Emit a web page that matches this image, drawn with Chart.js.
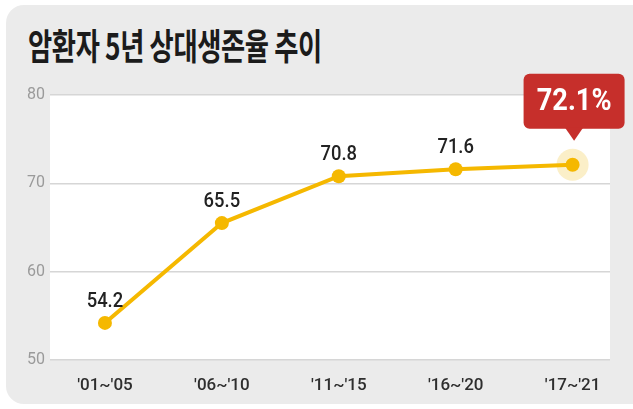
<!DOCTYPE html>
<html>
<head>
<meta charset="utf-8">
<script src="https://cdn.jsdelivr.net/npm/chart.js@4"></script>
<style>
  html, body { margin: 0; padding: 0; background: #fff; overflow: hidden; }
  #card { position: absolute; left: 6px; top: 5px; width: 660px; height: 399px; background: #ebebeb; border-radius: 18px; }
  #title { position: absolute; left: 28px; top: 18px; font-family: "Noto Sans CJK KR"; font-weight: 700; font-size: 36px; color: #1b1b1b; transform: scaleX(0.73); transform-origin: left top; white-space: nowrap; letter-spacing: -0.5px; }
  #wrap { position: absolute; left: 0; top: 0; width: 633px; height: 409px; }
</style>
</head>
<body>
<div id="card"></div>
<div id="title">암환자 5년 상대생존율 추이</div>
<div id="wrap"><canvas id="myChart" width="633" height="409"></canvas></div>
<script>
const ctx = document.getElementById('myChart').getContext('2d');

// 기간, 생존율
const periods = ["'01~'05", "'06~'10", "'11~'15", "'16~'20", "'17~'21"];
const rates = [54.2, 65.5, 70.8, 71.6, 72.1];
const yTicks = [50, 60, 70, 80];

const lineColor = '#f5b800';

// 흰 배경, 라벨, 말풍선
const decorPlugin = {
    id: 'decor',
    beforeDraw(chart) {
        const a = chart.chartArea;
        const c = chart.ctx;
        c.save();
        c.fillStyle = '#ffffff';
        c.fillRect(a.left, a.top, a.right - a.left, a.bottom - a.top);
        c.restore();
    },
    beforeDatasetsDraw(chart) {
        const c = chart.ctx;
        const pts = chart.getDatasetMeta(0).data;
        const p = pts[pts.length - 1];
        c.save();
        c.fillStyle = '#fbefc8';
        c.beginPath();
        c.arc(p.x, p.y, 16, 0, Math.PI * 2);
        c.fill();
        c.restore();
    },
    afterDatasetsDraw(chart) {
        const c = chart.ctx;
        const pts = chart.getDatasetMeta(0).data;
        c.save();
        c.fillStyle = '#222';
        c.font = '500 20px Roboto';
        c.textAlign = 'center';
        c.textBaseline = 'middle';
        for (let i = 0; i < pts.length - 1; i++) {
            c.save();
            c.translate(pts[i].x, pts[i].y - 21);
            c.scale(0.92, 1);
            c.fillText(rates[i].toFixed(1), 0, 0);
            c.restore();
        }
        // 마지막 값 말풍선
        const p = pts[pts.length - 1];
        const cx = p.x + 1.5, bottom = p.y - 36, w = 101, h = 55, r = 6;
        const left = cx - w / 2, top = bottom - h;
        c.fillStyle = '#c62f2b';
        c.beginPath();
        c.roundRect(left, top, w, h, r);
        c.fill();
        c.beginPath();
        c.moveTo(cx - 9, bottom - 1);
        c.lineTo(cx + 9, bottom - 1);
        c.lineTo(cx, p.y - 24);
        c.closePath();
        c.fill();
        c.fillStyle = '#fff';
        c.font = 'bold 32px Roboto';
        c.translate(cx, top + h / 2 + 1);
        c.scale(0.85, 1);
        c.fillText(rates[rates.length - 1].toFixed(1) + '%', 0, 0);
        c.restore();
    }
};

const myChart = new Chart(ctx, {
    type: 'line',
    data: {
        datasets: [{
            data: rates.map((v, i) => ({ x: i, y: v })),
            borderColor: lineColor,
            backgroundColor: lineColor,
            borderWidth: 4,
            pointRadius: 7,
            pointBackgroundColor: lineColor,
            pointBorderWidth: 0,
            tension: 0
        }]
    },
    options: {
        responsive: false,
        animation: false,
        events: [],
        layout: { padding: { left: 0, right: 23, top: 95, bottom: 19 } },
        plugins: { legend: { display: false }, tooltip: { enabled: false } },
        scales: {
            x: {
                type: 'linear',
                min: -0.47,
                max: 4.32,
                afterBuildTicks: (scale) => { scale.ticks = periods.map((_, i) => ({ value: i })); },
                afterFit: (scale) => { scale.height = 30; },
                grid: { display: false },
                border: { display: false },
                ticks: {
                    autoSkip: false,
                    maxRotation: 0,
                    padding: 8,
                    color: '#2e2e2e',
                    font: { family: 'Roboto', size: 17, weight: '500' },
                    callback: (v) => periods[v]
                }
            },
            y: {
                min: 50,
                max: 80,
                afterBuildTicks: (scale) => { scale.ticks = yTicks.map(v => ({ value: v })); },
                afterFit: (scale) => { scale.width = 50; },
                grid: { color: '#d6d6d6', lineWidth: 1.5, drawTicks: false },
                border: { display: false },
                ticks: {
                    padding: 5,
                    color: '#9a9a9a',
                    font: { family: 'Roboto', size: 16 }
                }
            }
        }
    },
    plugins: [decorPlugin]
});
</script>
</body>
</html>
